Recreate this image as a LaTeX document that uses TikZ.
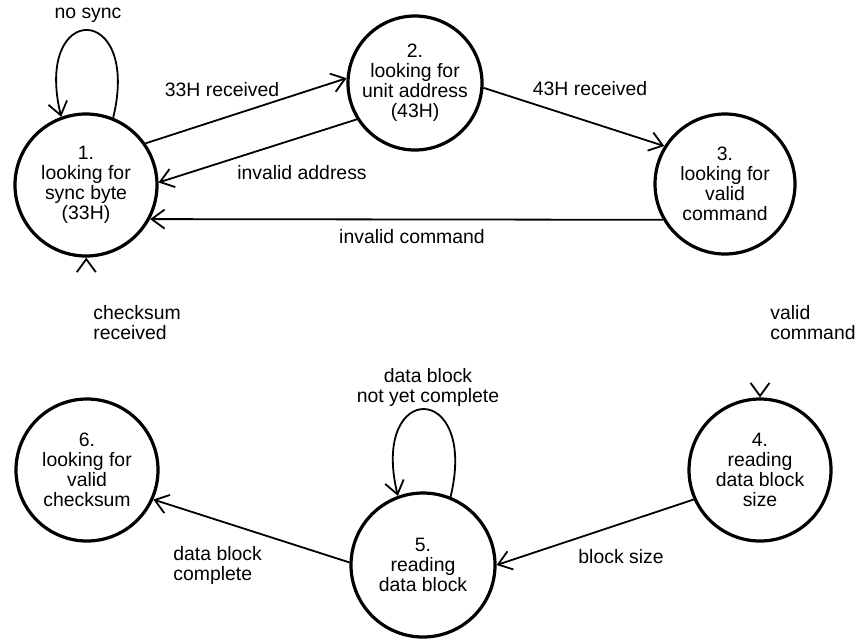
\documentclass[tikz,border=0pt]{standalone}
\usepackage{fontspec}
\setmainfont{Liberation Sans}
\usetikzlibrary{arrows.meta}
\begin{document}
\begin{tikzpicture}[x=0.5pt,y=-0.5pt,
  state/.style={circle,draw,line width=1.6pt,minimum size=71pt,inner sep=0pt,align=center,font=\fontsize{9.7}{10}\selectfont},
  lbl/.style={inner sep=0pt,font=\fontsize{9.7}{10}\selectfont},
  trans/.style={line width=0.9pt,-{Straight Barb[length=6.5pt,width=9.5pt]}},
  hidden/.style={draw=white,line width=0.9pt,shorten <=2pt,-{Straight Barb[length=6.5pt,width=9.5pt,color=black]}},
]
\useasboundingbox (0,0) rectangle (865,638);
% states
\node[state] (s1) at (86,185) {1.\\looking for\\sync byte\\(33H)};
\node[state,minimum size=67pt] (s2) at (415,83) {2.\\looking for\\unit address\\(43H)};
\node[state,minimum size=70pt] (s3) at (725,184) {3.\\looking for\\valid\\command};
\node[state] (s4) at (760,470) {4.\\reading\\data block\\size};
\node[state,minimum size=72pt] (s5) at (423,565) {5.\\reading\\data block};
\node[state] (s6) at (87,470) {6.\\looking for\\valid\\checksum};
% hidden-line transitions (only arrowheads visible)
\draw[hidden] (s6) -- (s1);
\draw[hidden] (s3) to[out=-90,in=90] (s4.north);
% transitions
\draw[trans] (s1.68) .. controls +(28,-116) and +(-28,-116) .. (s1.110);
\draw[trans] (s1.35) -- (s2.176);
\draw[trans] (s2.212) -- (s1.2);
\draw[trans] (s2.-4) -- (s3.148);
\draw[trans] (s3.210) -- (s1.-28);
\draw[trans] (s4.204) -- (s5.0);
\draw[trans] (s5.68) .. controls +(28,-116) and +(-28,-116) .. (s5.110);
\draw[trans] (s5.178) -- (s6.-24);
% labels
\node[lbl] (lnosync) at (88,15) {no sync};
\node[lbl] (l33) at (222,90) {33H received};
\node[lbl] (linvaddr) at (302,173) {invalid address};
\node[lbl] (l43) at (590,89) {43H received};
\node[lbl] (linvcmd) at (412,237) {invalid command};
\node[lbl,align=left,anchor=west] (lcheck) at (93,323) {checksum\\received};
\node[lbl,align=left,anchor=west] (lvalid) at (770,323) {valid\\command};
\node[lbl,align=center] (lnotyet) at (428,387) {data block\\not yet complete};
\node[lbl] (lbsize) at (621,557) {block size};
\node[lbl,align=left,anchor=west] (lcomplete) at (173,565) {data block\\complete};
\end{tikzpicture}
\end{document}
